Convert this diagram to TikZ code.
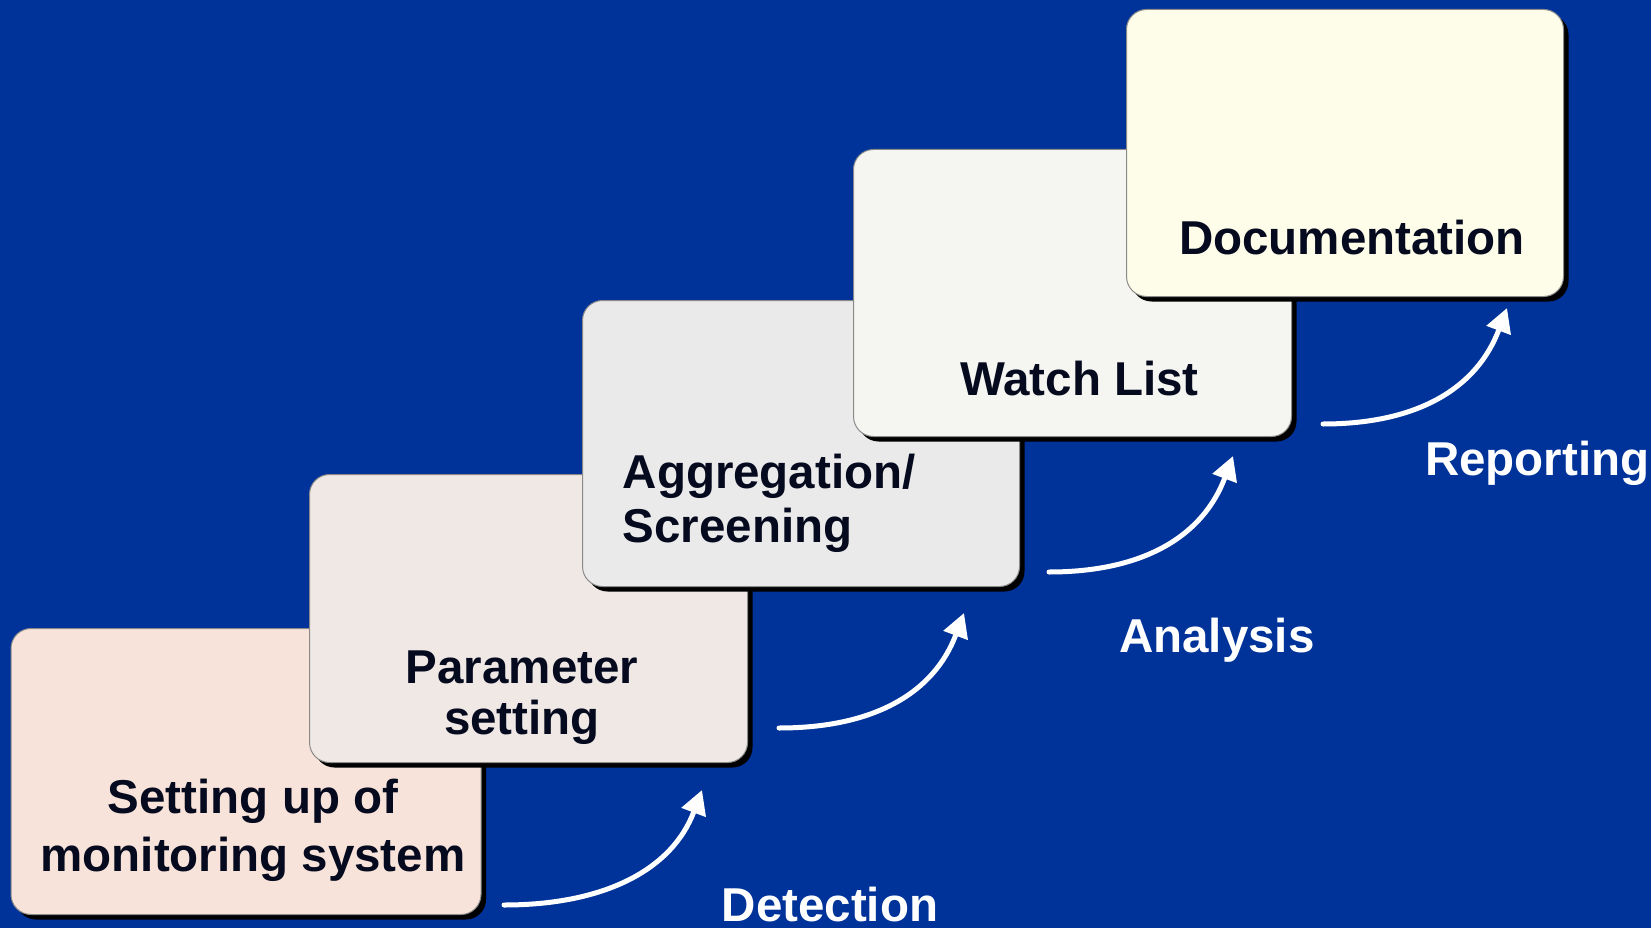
\documentclass[tikz,border=0pt]{standalone}
\usepackage{fontspec}
\setmainfont{Liberation Sans}
\usetikzlibrary{arrows.meta,shadows}
\definecolor{bg}{HTML}{003399}
\definecolor{ink}{HTML}{050A1E}
\definecolor{boxline}{HTML}{8A8A8A}
\definecolor{fillA}{HTML}{F8E3DA}
\definecolor{fillB}{HTML}{F0E8E5}
\definecolor{fillC}{HTML}{EAEAEA}
\definecolor{fillD}{HTML}{F5F5F1}
\definecolor{fillE}{HTML}{FEFDE9}
\begin{document}
\begin{tikzpicture}[x=1pt,y=-1pt,
  stepbox/.style={rectangle, rounded corners=20pt, draw=boxline, line width=1pt,
    inner sep=0pt, anchor=north west,
    general shadow={fill=black, shadow xshift=5pt, shadow yshift=-5pt}},
  boxtext/.style={font=\fontsize{47.5}{58}\selectfont\bfseries, text=ink, inner sep=0pt},
  steplabel/.style={font=\fontsize{47.5}{58}\selectfont\bfseries, text=white, inner sep=0pt, anchor=base west},
  flow/.style={draw=white, line width=5pt, line cap=round, -{Triangle[length=24pt,width=25pt]}}
]
\fill[bg] (0,0) rectangle (1651,928);
\useasboundingbox (0,0) rectangle (1651,928);

% boxes (later ones lie on top); multi-line texts are anchored at their last baseline
\node[stepbox, fill=fillA, minimum width=470pt, minimum height=286pt] (box1) at (10.5,628) {};
\node[boxtext, anchor=base, align=center, font=\fontsize{47.5}{58}\selectfont\bfseries] (t1) at (253,871) {Setting up of\\monitoring system};

\node[stepbox, fill=fillB, minimum width=438pt, minimum height=288pt] (box2) at (309,474) {};
\node[boxtext, anchor=base, align=center, font=\fontsize{47.5}{51}\selectfont\bfseries] (t2) at (522,734) {Parameter\\setting};

\node[stepbox, fill=fillC, minimum width=437pt, minimum height=286pt] (box3) at (582,300) {};
\node[boxtext, anchor=base west, align=left, font=\fontsize{47.5}{54}\selectfont\bfseries] (t3) at (622.5,542) {Aggregation/\\Screening};

\node[stepbox, fill=fillD, minimum width=438pt, minimum height=287pt] (box4) at (853,149) {};
\node[boxtext, anchor=base] (t4) at (1079.5,395) {Watch List};

\node[stepbox, fill=fillE, minimum width=437pt, minimum height=287pt] (box5) at (1126,9) {};
\node[boxtext, anchor=base] (t5) at (1352,254) {Documentation};

% arrows
\coordinate (a1s) at (504,905);  \coordinate (a1e) at (702,790);
\coordinate (a2s) at (779,728);  \coordinate (a2e) at (964,613);
\coordinate (a3s) at (1049,572); \coordinate (a3e) at (1233,456);
\coordinate (a4s) at (1323,424); \coordinate (a4e) at (1507,308);
\draw[flow] (a1s) .. controls +(100,0) and +(-30,80) .. (a1e);
\draw[flow] (a2s) .. controls +(95,0) and +(-30,80) .. (a2e);
\draw[flow] (a3s) .. controls +(95,0) and +(-30,80) .. (a3e);
\draw[flow] (a4s) .. controls +(95,0) and +(-30,80) .. (a4e);

% labels
\node[steplabel] (l1) at (721.5,921) {Detection};
\node[steplabel] (l2) at (1119,652) {Analysis};
\node[steplabel] (l3) at (1425,475) {Reporting};
\end{tikzpicture}
\end{document}
